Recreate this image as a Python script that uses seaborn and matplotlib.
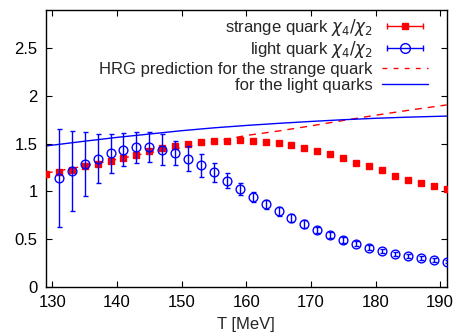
import numpy as np
import pandas as pd
import matplotlib
matplotlib.use("Agg")
import matplotlib.pyplot as plt
import seaborn as sns
from matplotlib.ticker import FuncFormatter
from matplotlib.lines import Line2D
from matplotlib.legend_handler import HandlerLine2D, HandlerTuple

# ---- data ----
T_strange = [129, 131, 133, 135, 137, 139, 141, 143, 145, 147, 149, 151, 153, 155, 157, 159,
             161, 163, 165, 167, 169, 171, 173, 175, 177, 179, 181, 183, 185, 187, 189, 191]
strange = [1.186, 1.207, 1.224, 1.262, 1.290, 1.318, 1.350, 1.385, 1.418, 1.455, 1.472, 1.493,
           1.512, 1.525, 1.532, 1.535, 1.531, 1.518, 1.502, 1.482, 1.458, 1.425, 1.388, 1.346,
           1.301, 1.262, 1.218, 1.165, 1.120, 1.092, 1.053, 1.019]
strange_err = [0.01] * len(T_strange)

T_light = [131, 133, 135, 137, 139, 141, 143, 145, 147, 149, 151, 153, 155, 157, 159,
           161, 163, 165, 167, 169, 171, 173, 175, 177, 179, 181, 183, 185, 187, 189, 191]
light = [1.140, 1.210, 1.283, 1.343, 1.397, 1.437, 1.461, 1.464, 1.437, 1.402, 1.343, 1.273,
         1.197, 1.113, 1.025, 0.940, 0.862, 0.789, 0.722, 0.656, 0.593, 0.538, 0.492, 0.450,
         0.408, 0.373, 0.345, 0.324, 0.297, 0.279, 0.262]
light_err = [0.518, 0.420, 0.336, 0.261, 0.206, 0.171, 0.162, 0.161, 0.159, 0.125, 0.135, 0.118,
             0.096, 0.075, 0.065, 0.055, 0.050, 0.045, 0.040, 0.038, 0.035, 0.032, 0.030, 0.028,
             0.026, 0.024, 0.022, 0.021, 0.020, 0.019, 0.018]

T_hrg = [129, 135, 140, 145, 150, 155, 160, 165, 170, 175, 180, 185, 191]
hrg_strange = [1.190, 1.265, 1.335, 1.405, 1.455, 1.520, 1.585, 1.632, 1.685, 1.742, 1.797, 1.848, 1.905]
hrg_light = [1.475, 1.525, 1.565, 1.600, 1.635, 1.665, 1.690, 1.712, 1.732, 1.750, 1.765, 1.777, 1.788]

labels = [r"strange quark $\chi_4/\chi_2$", r"light quark $\chi_4/\chi_2$",
          "HRG prediction for the strange quark", "for the light quarks"]

FS = 12

# ---- plot ----
sns.set_style("ticks")
plt.rcParams['font.family'] = ['Liberation Sans', 'DejaVu Sans']
plt.rcParams['mathtext.fontset'] = 'dejavusans'

fig = plt.figure(figsize=(4.59, 3.33), dpi=100)
ax = fig.add_axes([0.100, 0.139, 0.873, 0.831])

hrg = pd.DataFrame({"T": T_hrg, "s": hrg_strange, "l": hrg_light})
sns.lineplot(data=hrg, x="T", y="s", ax=ax, color="red", lw=1.0, linestyle=(0, (5, 4.3)),
             legend=False)
sns.lineplot(data=hrg, x="T", y="l", ax=ax, color="blue", lw=1.0, legend=False)

ax.errorbar(T_strange, strange, yerr=strange_err, fmt="s", color="red", ms=3.8,
            mec="red", mfc="red", elinewidth=1.0, capsize=1.5, zorder=4)
ax.errorbar(T_light, light, yerr=light_err, fmt="o", color="blue", ms=6.3, mfc="none",
            mec="blue", mew=1.0, elinewidth=1.0, capsize=1.8, zorder=5)

ax.set_xlim(129, 191)
ax.set_ylim(0, 2.9)
ax.set_xticks([130, 140, 150, 160, 170, 180, 190])
ax.set_yticks([0, 0.5, 1, 1.5, 2, 2.5])
ax.yaxis.set_major_formatter(FuncFormatter(lambda v, p: f"{v:g}"))
ax.tick_params(direction="in", top=True, right=True, length=4, width=0.8, labelsize=FS,
               colors="black", pad=6)
for s in ax.spines.values():
    s.set_linewidth(1.0)
    s.set_color("black")
ax.set_xlabel("T [MeV]", fontsize=FS, labelpad=5)
ax.set_ylabel("")

# gnuplot-style legend handles: horizontal error bar with caps and a marker in the middle
def eb_handle(color, marker, mfc, ms):
    bar = Line2D([], [], color=color, lw=1.0, marker="|", ms=5, mew=1.0)
    mk = Line2D([], [], color=color, lw=0, marker=marker, mfc=mfc, mec=color, ms=ms, mew=1.0)
    return (bar, mk), bar, mk

s_h, s_bar, s_mk = eb_handle("red", "s", "red", 4.5)
l_h, l_bar, l_mk = eb_handle("blue", "o", "none", 7)
d_h = Line2D([], [], color="red", lw=1.0, linestyle=(0, (3.5, 4.5)))
b_h = Line2D([], [], color="blue", lw=1.0)

hmap = {tuple: HandlerTuple(ndivide=1, pad=0),
        s_bar: HandlerLine2D(numpoints=2), l_bar: HandlerLine2D(numpoints=2),
        s_mk: HandlerLine2D(numpoints=1), l_mk: HandlerLine2D(numpoints=1)}
leg = ax.legend([s_h, l_h, d_h, b_h], labels, handler_map=hmap, loc="upper right",
                frameon=False, markerfirst=False, fontsize=FS, handlelength=2.75,
                handletextpad=0.55, labelspacing=0.08, borderaxespad=0.0, borderpad=0.3,
                bbox_to_anchor=(0.965, 0.993))

fig.savefig("out.png", dpi=100)
